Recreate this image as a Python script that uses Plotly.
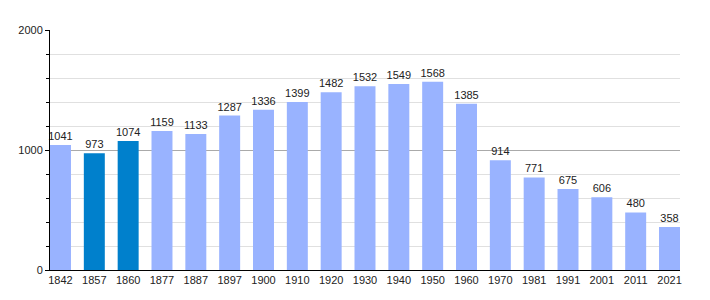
import plotly.graph_objects as go

years = ["1842", "1857", "1860", "1877", "1887", "1897", "1900", "1910", "1920", "1930",
         "1940", "1950", "1960", "1970", "1981", "1991", "2001", "2011", "2021"]
population = [1041, 973, 1074, 1159, 1133, 1287, 1336, 1399, 1482, 1532,
              1549, 1568, 1385, 914, 771, 675, 606, 480, 358]
highlighted = ["1857", "1860"]

light = "#99b3ff"
dark = "#0080cc"
colors = [dark if y in highlighted else light for y in years]

fig = go.Figure(go.Bar(
    x=years, y=population, marker=dict(color=colors, line=dict(width=0)),
    text=[str(v) for v in population], textposition="outside",
    textfont=dict(size=11, color="#222", family="Liberation Sans, Arial"),
    cliponaxis=False, width=0.62, constraintext="none",
))

fig.update_layout(
    width=710, height=300,
    margin=dict(l=50, r=30, t=30, b=30),
    plot_bgcolor="white", paper_bgcolor="white",
    font=dict(family="Liberation Sans, Arial", size=11, color="#222"),
    showlegend=False,
    uniformtext=dict(minsize=11, mode="show"),
    xaxis=dict(type="category", range=[-0.31, 18.31], showgrid=False,
               showline=True, linecolor="black", linewidth=1, ticks="",
               tickfont=dict(size=11, color="#222")),
    yaxis=dict(range=[0, 2000], dtick=1000, tick0=0, showgrid=True,
               gridcolor="#aaaaaa", gridwidth=1, zeroline=False,
               showline=True, linecolor="black", linewidth=1,
               ticks="outside", ticklen=4, tickcolor="black",
               tickfont=dict(size=11, color="#222"),
               minor=dict(dtick=200, tick0=0, ticks="outside", ticklen=3,
                          tickcolor="black", showgrid=True, gridcolor="#e0e0e0",
                          gridwidth=1)),
)

fig.write_html("out.html")
